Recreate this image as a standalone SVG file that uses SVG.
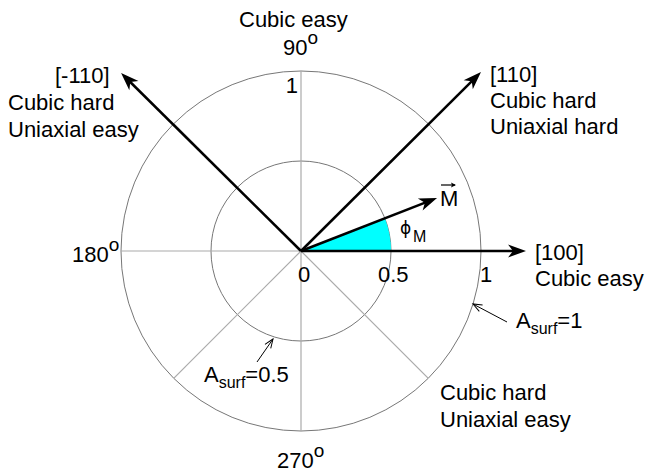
<svg xmlns="http://www.w3.org/2000/svg" width="646" height="476" viewBox="0 0 646 476">
<style>
text{font-family:"Liberation Sans",Arial,sans-serif;font-size:22px;fill:#000}
.sub{font-size:16px}
.deg{font-size:19px}
.grid{stroke:#aaa;stroke-width:1.2;fill:none}
.circ{stroke:#777;stroke-width:1;fill:none}
.arr{stroke:#000;stroke-width:2.5;fill:none}
.thin{stroke:#000;stroke-width:1;fill:none}
</style>
<defs>
<marker id="head" markerUnits="userSpaceOnUse" markerWidth="30" markerHeight="20" viewBox="-10 -10 30 20" refX="0" refY="0" orient="auto" overflow="visible">
<path d="M10,0 L-8,-6.5 L-3,0 L-8,6.5 Z" fill="#000"/>
</marker>
<marker id="open" markerUnits="userSpaceOnUse" markerWidth="20" markerHeight="20" viewBox="-10 -10 20 20" refX="0" refY="0" orient="auto" overflow="visible">
<path d="M-9,-3.5 L0,0 L-9,3.5" fill="none" stroke="#000" stroke-width="1"/>
</marker>
<marker id="vec" markerUnits="userSpaceOnUse" markerWidth="10" markerHeight="10" viewBox="-5 -5 10 10" refX="0" refY="0" orient="auto" overflow="visible">
<path d="M1,0 L-4,-2.5 L-3,0 L-4,2.5 Z" fill="#000"/>
</marker>
</defs>
<g id="polar-grid">
<circle class="circ" cx="301" cy="251" r="180"/>
<circle class="circ" cx="301" cy="251" r="90"/>
<line class="grid" x1="121" y1="251" x2="481" y2="251"/>
<line class="grid" x1="301" y1="71" x2="301" y2="431"/>
<line class="grid" x1="173.7" y1="378.3" x2="428.3" y2="123.7"/>
<line class="grid" x1="173.7" y1="123.7" x2="428.3" y2="378.3"/>
</g>
<g id="phi-wedge">
<path d="M301,251 L391,251 A90,90 0 0 0 384.9,218.3 Z" fill="#00ffff"/>
</g>
<g id="connectors">
<line class="arr" x1="301" y1="251" x2="128.2" y2="80"  marker-end="url(#head)"/>
<line class="arr" x1="301" y1="251" x2="473.9" y2="79.1" marker-end="url(#head)"/>
<line class="arr" x1="301" y1="251" x2="516" y2="251" marker-end="url(#head)"/>
<line class="arr" x1="301" y1="251" x2="427.7" y2="201.6" marker-end="url(#head)"/>
<line class="thin" x1="507" y1="322" x2="473" y2="304" marker-end="url(#open)"/>
<line class="thin" x1="257" y1="362" x2="273" y2="339" marker-end="url(#open)"/>
</g>
<g id="label-top">
<text x="239" y="27">Cubic easy</text>
<text x="283" y="55">90<tspan class="deg" dy="-11">o</tspan></text>
<text x="298" y="93" text-anchor="end">1</text>
</g>
<g id="label-m110">
<text x="55" y="83">[-110]</text>
<text x="8" y="110">Cubic hard</text>
<text x="8" y="136.5">Uniaxial easy</text>
</g>
<g id="label-110">
<text x="490" y="82">[110]</text>
<text x="490" y="107.5">Cubic hard</text>
<text x="490" y="133.5">Uniaxial hard</text>
</g>
<g id="label-M">
<text x="440" y="205.5">M</text>
<line x1="441" y1="185" x2="455" y2="185" stroke="#000" stroke-width="1.2" marker-end="url(#vec)"/>
</g>
<g id="label-phi">
<text x="400" y="234" style="font-family:'DejaVu Sans',sans-serif;font-size:17px">ϕ</text>
<text x="413" y="242" class="sub">M</text>
</g>
<g id="label-180">
<text x="72" y="262">180<tspan class="deg" dy="-11">o</tspan></text>
</g>
<g id="axis-ticks">
<text x="298" y="282">0</text>
<text x="378" y="282">0.5</text>
<text x="480" y="282">1</text>
</g>
<g id="label-100">
<text x="535" y="260">[100]</text>
<text x="535" y="286">Cubic easy</text>
</g>
<g id="label-asurf1">
<text x="516" y="328">A<tspan class="sub" dy="6">surf</tspan><tspan dy="-6">=1</tspan></text>
</g>
<g id="label-asurf05">
<text x="204" y="382">A<tspan class="sub" dy="6">surf</tspan><tspan dy="-6">=0.5</tspan></text>
</g>
<g id="label-lower-right">
<text x="440" y="400">Cubic hard</text>
<text x="440" y="427">Uniaxial easy</text>
</g>
<g id="label-270">
<text x="277" y="468">270<tspan class="deg" dy="-11">o</tspan></text>
</g>
</svg>
